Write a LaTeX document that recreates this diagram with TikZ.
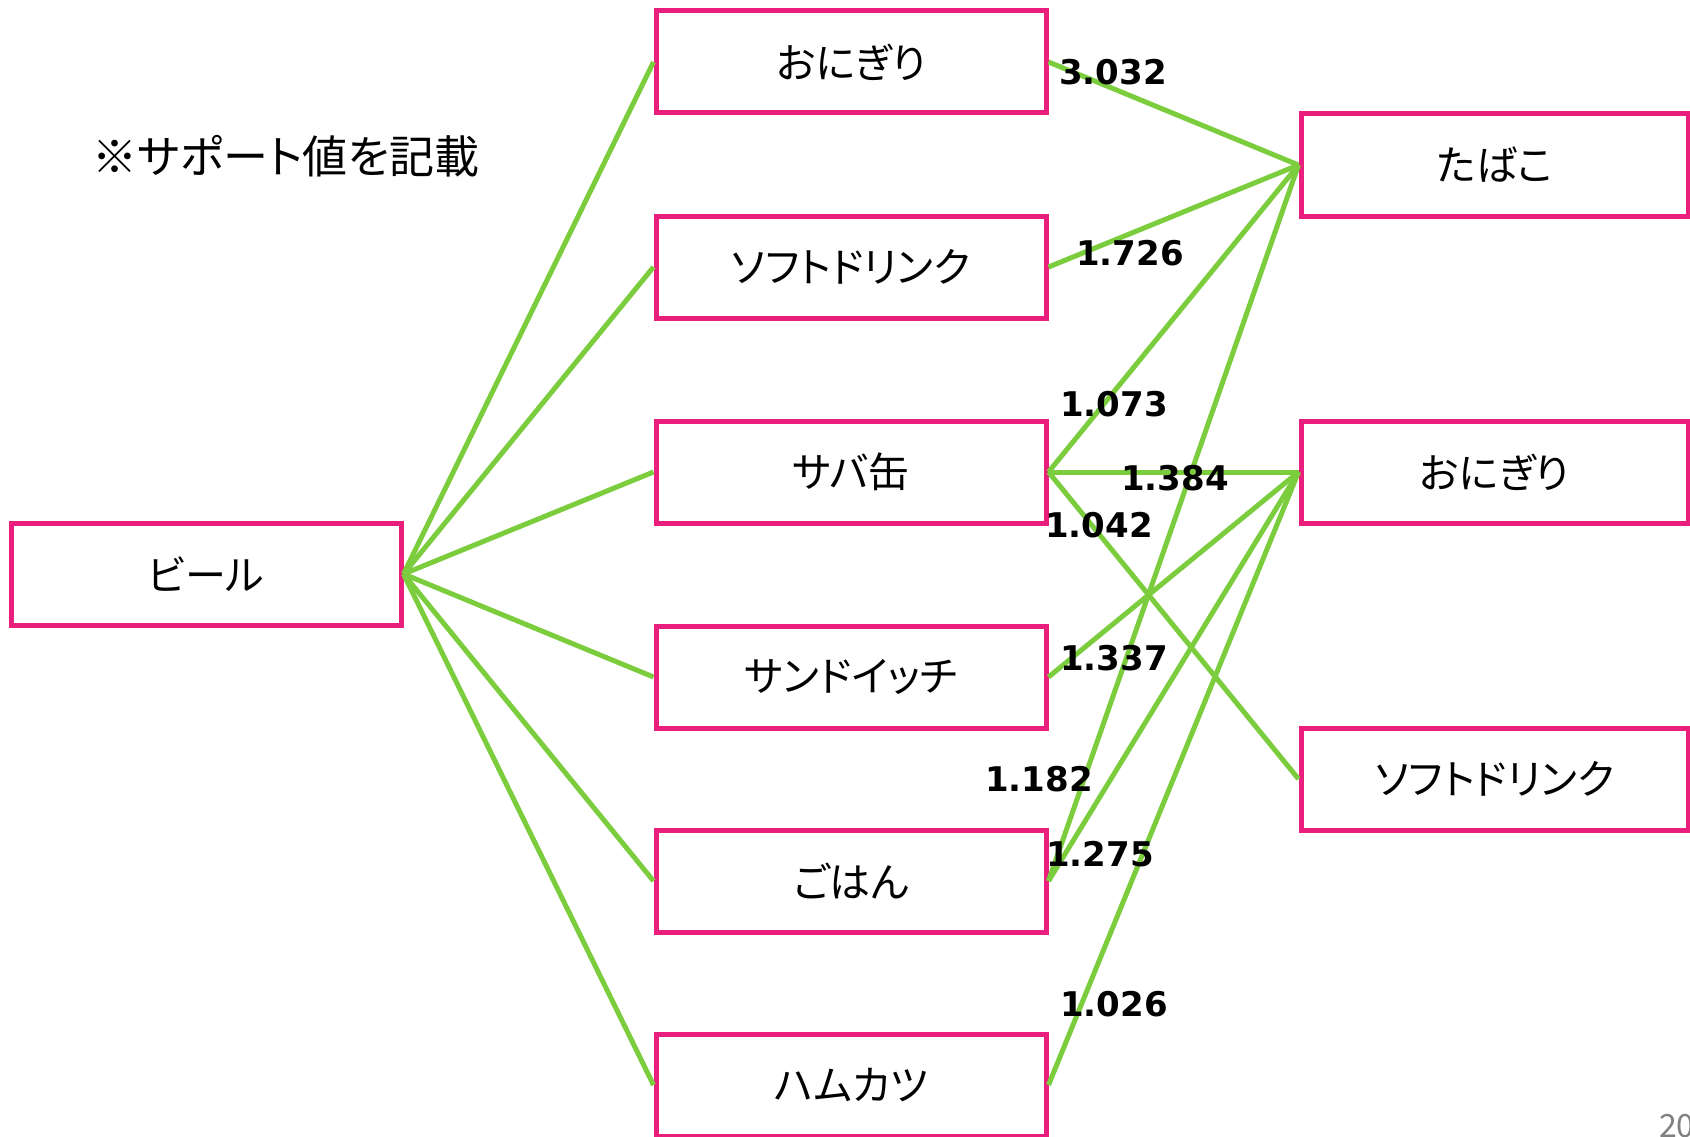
\documentclass[tikz,border=0pt]{standalone}
\usepackage{fontspec}
\setmainfont{Noto Sans CJK JP}[RawFeature=+palt]
\newfontfamily\numfont{DejaVu Sans}
\definecolor{boxpink}{RGB}{233,30,125}
\definecolor{linkgreen}{RGB}{124,205,62}
\definecolor{pagegray}{RGB}{128,128,128}
\begin{document}
\begin{tikzpicture}[x=1pt,y=-1pt,
  box/.style={draw=boxpink, line width=5pt, fill=white, minimum width=390pt, minimum height=102pt, inner sep=0pt, font=\fontsize{41}{46}\selectfont},
  link/.style={draw=linkgreen, line width=5pt},
  val/.style={font=\numfont\bfseries\fontsize{34}{40}\selectfont, inner sep=0pt, text=black}]
\useasboundingbox (0,0) rectangle (1690,1137);
\fill[white] (0,0) rectangle (1690,1137);

\node[font=\fontsize{45}{50}\selectfont, inner sep=0pt] (note) at (286,156) {※サポート値を記載};

\node[box] (beer) at (206,574) {ビール};

\node[box] (m1) at (851,62) {おにぎり};
\node[box] (m2) at (851,267) {ソフトドリンク};
\node[box] (m3) at (851,472) {サバ缶};
\node[box] (m4) at (851,677) {サンドイッチ};
\node[box] (m5) at (851,881) {ごはん};
\node[box] (m6) at (851,1085) {ハムカツ};

\node[box, minimum width=387pt] (r1) at (1494.5,165) {たばこ};
\node[box, minimum width=387pt] (r2) at (1494.5,472) {おにぎり};
\node[box, minimum width=387pt] (r3) at (1494.5,779) {ソフトドリンク};

\foreach \m in {m1,m2,m3,m4,m5,m6}
  \draw[link] (beer.east) -- (\m.west);

\draw[link] (m1.east) -- (r1.west);
\draw[link] (m2.east) -- (r1.west);
\draw[link] (m3.east) -- (r1.west);
\draw[link] (m3.east) -- (r2.west);
\draw[link] (m3.east) -- (r3.west);
\draw[link] (m4.east) -- (r2.west);
\draw[link] (m5.east) -- (r1.west);
\draw[link] (m5.east) -- (r2.west);
\draw[link] (m6.east) -- (r2.west);

\node[val] (v1) at (1113,72) {3.032};
\node[val] (v2) at (1130,253) {1.726};
\node[val] (v3) at (1114,404) {1.073};
\node[val] (v4) at (1175,478) {1.384};
\node[val] (v5) at (1099,525) {1.042};
\node[val] (v6) at (1114,658) {1.337};
\node[val] (v7) at (1039,779) {1.182};
\node[val] (v8) at (1100,854) {1.275};
\node[val] (v9) at (1114,1004) {1.026};

\node[anchor=north west, text=pagegray, inner sep=0pt, font=\fontsize{32}{36}\selectfont] (pg) at (1659,1114) {20};
\end{tikzpicture}
\end{document}
